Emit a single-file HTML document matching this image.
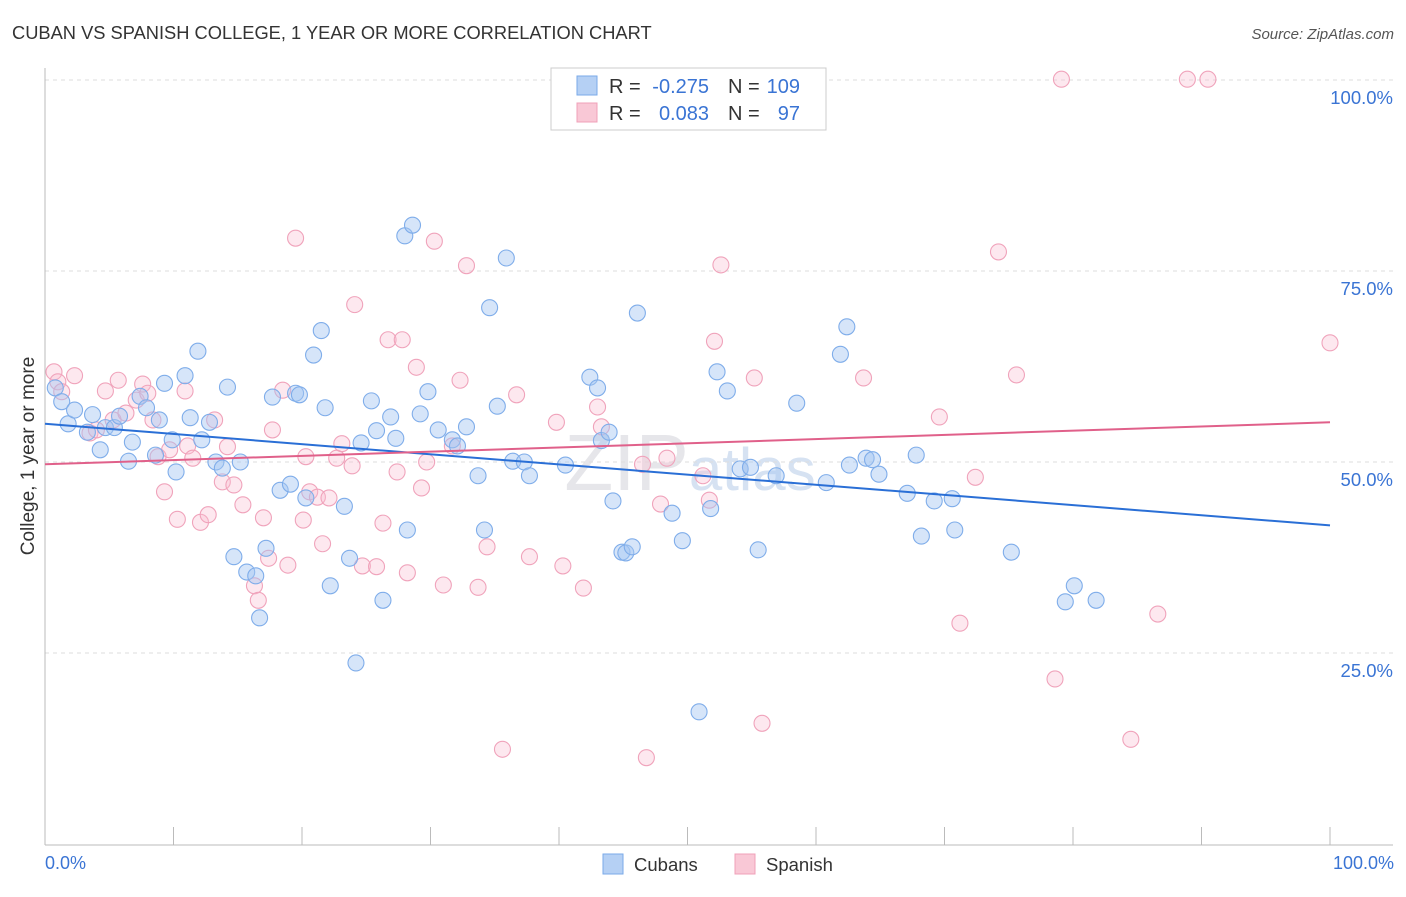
<!DOCTYPE html>
<html><head><meta charset="utf-8"><style>
body{margin:0;background:#fff;font-family:"Liberation Sans",sans-serif;}
svg text{font-family:"Liberation Sans",sans-serif;}
</style></head><body>
<svg id="chart" width="1406" height="892" viewBox="0 0 1406 892">
<text x="12" y="39" font-size="18.3" fill="#333">CUBAN VS SPANISH COLLEGE, 1 YEAR OR MORE CORRELATION CHART</text>
<text x="1394" y="39" font-size="15" fill="#555" text-anchor="end" font-style="italic">Source: ZipAtlas.com</text>
<text x="690" y="490" font-size="80" fill="#e6e6ea" text-anchor="middle" font-family="Liberation Serif">ZIP<tspan font-family="Liberation Sans" font-size="60" fill="#d6e2f2">atlas</tspan></text>
<g id="grid"></g>
<g id="axes"></g>
<g id="points"></g>
<g id="trends"></g>
<text transform="translate(34,456) rotate(-90)" font-size="19" fill="#333" text-anchor="middle">College, 1 year or more</text>
<text x="45" y="869" font-size="18" fill="#3a74d4">0.0%</text>
<text x="1394" y="869" font-size="18" fill="#3a74d4" text-anchor="end">100.0%</text>
<g font-size="20">
<rect x="551" y="68" width="275" height="62" fill="#fff" stroke="#ccc"/>
<rect x="577" y="76" width="20" height="19" fill="#b5d0f4" stroke="#7aaae8"/>
<rect x="577" y="103" width="20" height="19" fill="#f9c8d6" stroke="#f0a0b8"/>
<text x="609" y="93" fill="#333">R =</text>
<text x="709" y="93" fill="#3a74d4" text-anchor="end">-0.275</text>
<text x="728" y="93" fill="#333">N =</text>
<text x="800" y="93" fill="#3a74d4" text-anchor="end">109</text>
<text x="609" y="120" fill="#333">R =</text>
<text x="709" y="120" fill="#3a74d4" text-anchor="end">0.083</text>
<text x="728" y="120" fill="#333">N =</text>
<text x="800" y="120" fill="#3a74d4" text-anchor="end">97</text>
</g>
<g><rect x="603" y="854" width="20" height="20" fill="#b5d0f4" stroke="#7aaae8"/><text x="634" y="871" font-size="18.5" fill="#333">Cubans</text></g>
<g><rect x="735" y="854" width="20" height="20" fill="#f9c8d6" stroke="#f0a0b8"/><text x="766" y="871" font-size="18.5" fill="#333">Spanish</text></g>
</svg>
<script>
const yTicks=[25,50,75,100];
const yTickLabels=["25.0%","50.0%","75.0%","100.0%"];
const xTicks=[0,10,20,30,40,50,60,70,80,90,100];
const cubansX=[0.8,1.3,1.8,2.3,3.3,3.7,4.3,4.7,5.4,5.8,6.5,6.8,7.4,7.9,8.6,8.9,9.3,9.9,10.2,10.9,11.3,11.9,12.2,12.8,13.3,13.8,14.2,14.7,15.2,15.7,16.4,16.7,17.2,17.7,18.3,19.1,19.5,19.8,20.3,20.9,21.5,21.8,22.2,23.3,23.7,24.2,24.6,25.4,25.8,26.3,26.9,27.3,28.0,28.2,28.6,29.2,29.8,30.6,31.7,32.1,32.8,33.7,34.2,34.6,35.2,35.9,36.4,37.3,37.7,40.5,42.4,43.0,43.3,43.9,44.2,44.9,45.2,45.7,46.1,48.8,49.6,50.9,51.8,52.3,53.1,54.1,54.9,55.5,56.9,58.5,60.8,61.9,62.4,62.6,63.9,64.4,64.9,67.1,67.8,68.2,69.2,70.6,70.8,75.2,79.4,80.1,81.8];
const cubansY=[59.7,57.9,55.0,56.8,53.9,56.2,51.6,54.5,54.5,56.0,50.1,52.6,58.6,57.1,50.9,55.5,60.3,52.9,48.7,61.3,55.8,64.5,52.9,55.2,50.0,49.2,59.8,37.6,50.0,35.6,35.1,29.6,38.7,58.5,46.3,47.1,59.0,58.8,45.3,64.0,67.2,57.1,33.8,44.2,37.4,23.7,52.5,58.0,54.1,31.9,55.9,53.1,79.6,41.1,81.0,56.3,59.2,54.2,52.9,52.1,54.6,48.2,41.1,70.2,57.3,76.7,50.1,50.0,48.2,49.6,61.1,59.7,52.8,53.9,44.9,38.2,38.1,38.9,69.5,43.3,39.7,17.3,43.9,61.8,59.3,49.1,49.3,38.5,48.2,57.7,47.3,64.1,67.7,49.6,50.5,50.3,48.4,45.9,50.9,40.3,44.9,45.2,41.1,38.2,31.7,33.8,31.9];
const spanishX=[0.7,1.0,1.3,2.3,3.5,4.0,4.7,5.3,5.7,6.3,7.1,7.6,8.0,8.4,8.8,9.3,9.7,10.3,10.9,11.1,11.5,12.1,12.7,13.2,13.8,14.2,14.7,15.4,16.3,16.6,17.0,17.4,17.7,18.5,18.9,19.5,20.1,20.3,20.6,21.2,21.6,22.1,22.7,23.1,23.9,24.1,24.7,25.8,26.3,26.7,27.4,27.8,28.2,28.9,29.3,29.7,30.3,31.0,31.7,32.3,32.8,33.7,34.4,35.6,36.7,37.7,39.8,40.3,41.9,43.0,43.3,46.5,46.8,47.9,48.4,51.2,51.7,52.1,52.6,55.2,55.8,63.7,69.6,71.2,72.4,74.2,75.6,78.6,79.1,84.5,86.6,88.9,90.5,100.0];
const spanishY=[61.8,60.5,59.2,61.3,53.8,54.2,59.3,55.5,60.7,56.4,58.1,60.2,59.0,55.5,50.7,46.1,51.6,42.5,59.3,52.1,50.5,42.1,43.1,55.5,47.4,52.0,47.0,44.4,33.8,31.9,42.7,37.4,54.2,59.4,36.5,79.3,42.4,50.7,46.1,45.4,39.3,45.3,50.5,52.4,49.5,70.6,36.4,36.3,42.0,66.0,48.7,66.0,35.5,62.4,46.6,50.0,78.9,33.9,52.1,60.7,75.7,33.6,38.9,12.4,58.8,37.6,55.2,36.4,33.5,57.2,54.6,49.7,11.3,44.5,50.5,48.2,45.0,65.8,75.8,61.0,15.8,61.0,55.9,28.9,48.0,77.5,61.4,21.6,100.1,13.7,30.1,100.1,100.1,65.6];
const cubansTrend=[55.0,41.7];
const spanishTrend=[49.7,55.2];

const NS="http://www.w3.org/2000/svg";
const X0=45,X1=1330,Y0=844,Y100=80;
function sx(v){return X0+(X1-X0)*v/100;}
function sy(v){return Y0-(Y0-Y100)*v/100;}
function mk(tag,attrs,parent){const e=document.createElementNS(NS,tag);for(const k in attrs)e.setAttribute(k,attrs[k]);parent.appendChild(e);return e;}
const grid=document.getElementById('grid'),axes=document.getElementById('axes'),pts=document.getElementById('points'),tr=document.getElementById('trends');
yTicks.forEach((t,i)=>{
 const l=mk('line',{x1:X0,x2:1393,y1:sy(t),y2:sy(t),stroke:'#ddd','stroke-dasharray':'4,4'},grid);
 
 
 const tx=mk('text',{x:1393,y:sy(t)+24,'font-size':18.5,fill:'#3a74d4','text-anchor':'end'},grid);
 tx.textContent=yTickLabels[i];
 
 
});
const ya=mk('line',{x1:X0,x2:X0,y1:68,y2:845,stroke:'#bbb'},axes);


const xa=mk('line',{x1:X0,x2:1393,y1:845,y2:845,stroke:'#bbb'},axes);


xTicks.forEach(t=>{
 const l=mk('line',{x1:sx(t),x2:sx(t),y1:827,y2:845,stroke:'#bbb'},axes);
 
 
});
function series(xs,ys,fill,stroke,name){
 xs.forEach((x,i)=>{
  const c=mk('circle',{cx:sx(x),cy:sy(ys[i]),r:8,fill:fill,stroke:stroke,'stroke-width':1.1},pts);
  
  
 });
}
series(spanishX,spanishY,'rgba(248,190,208,0.35)','#f0a3bb','spanish-point');
series(cubansX,cubansY,'rgba(165,198,242,0.45)','#7fadea','cuban-point');
const bl=mk('line',{x1:sx(0),y1:sy(cubansTrend[0]),x2:sx(100),y2:sy(cubansTrend[1]),stroke:'#2a6fd6','stroke-width':2},tr);


const pl=mk('line',{x1:sx(0),y1:sy(spanishTrend[0]),x2:sx(100),y2:sy(spanishTrend[1]),stroke:'#e0608a','stroke-width':2},tr);


</script>
</body></html>
